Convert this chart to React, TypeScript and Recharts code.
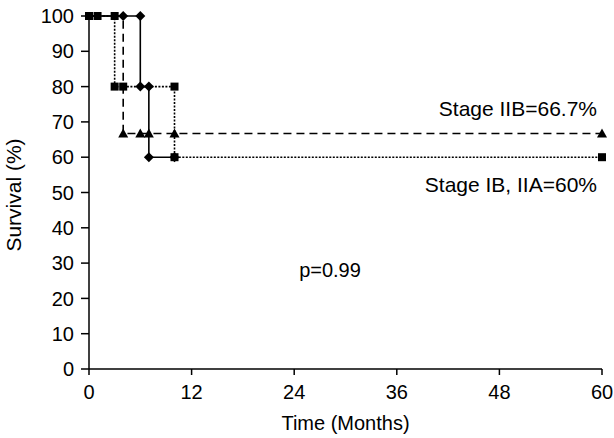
import React from "react";
import { LineChart, Line, XAxis, YAxis, Customized } from "recharts";

// Kaplan-Meier steps (months, survival %)
const ibTimes = [0, 4, 6, 6, 7, 7, 10];
const ibSurv = [100, 100, 100, 80, 80, 60, 60];

const iibTimes = [0, 4, 6, 7, 10, 60];
const iibSurv = [100, 66.7, 66.7, 66.7, 66.7, 66.7];

const iiaTimes = [0, 1, 3, 3, 4, 10, 10, 60];
const iiaSurv = [100, 100, 100, 80, 80, 80, 60, 60];

const xTicks = [0, 12, 24, 36, 48, 60];
const yTicks = [0, 10, 20, 30, 40, 50, 60, 70, 80, 90, 100];

const toRows = (ts: number[], ss: number[]) => ts.map((t, i) => ({ t, s: ss[i] }));

const FONT = "'Liberation Sans', Arial, sans-serif";

const makeDot = (shape: "diamond" | "triangle" | "square", skipFirst: boolean) => (p: any) => {
  const { cx, cy, index, key } = p;
  if (skipFirst && index === 0) return <g key={key ?? index} />;
  if (shape === "square")
    return <rect key={key ?? index} x={cx - 4} y={cy - 4} width={8} height={8} fill="#000" />;
  if (shape === "diamond")
    return (
      <polygon
        key={key ?? index}
        points={`${cx},${cy - 5} ${cx + 5},${cy} ${cx},${cy + 5} ${cx - 5},${cy}`}
        fill="#000"
      />
    );
  return (
    <polygon
      key={key ?? index}
      points={`${cx},${cy - 5} ${cx + 5},${cy + 4} ${cx - 5},${cy + 4}`}
      fill="#000"
    />
  );
};

const Notes = () => (
  <g fontFamily={FONT} fill="#000">
    <text x={597} y={116} fontSize={21} textAnchor="end">Stage IIB=66.7%</text>
    <text x={597} y={192} fontSize={21} textAnchor="end">Stage IB, IIA=60%</text>
    <text x={330} y={277} fontSize={20} textAnchor="middle">p=0.99</text>
    <text x={21} y={195} fontSize={21} textAnchor="middle" transform="rotate(-90 21 195)">Survival (%)</text>
  </g>
);

export default function App() {
  const tick = { fill: "#000", fontSize: 20, fontFamily: FONT };
  return (
    <div style={{ position: "absolute", left: 0, top: 0, background: "#fff" }}>
      <LineChart width={614} height={438} margin={{ top: 16, right: 12, bottom: 39, left: 0 }}>
        <XAxis
          type="number"
          dataKey="t"
          domain={[0, 60]}
          ticks={xTicks}
          tick={tick}
          height={30}
          tickSize={6}
          tickMargin={10}
          stroke="#000"
          strokeWidth={1.5}
          label={{ value: "Time (Months)", position: "bottom", offset: 17, fill: "#000", fontSize: 20, fontFamily: FONT }}
        />
        <YAxis
          type="number"
          domain={[0, 100]}
          ticks={yTicks}
          tick={tick}
          width={89}
          tickSize={8}
          tickMargin={7}
          stroke="#000"
          strokeWidth={1.5}
        />
        <Line
          data={toRows(ibTimes, ibSurv)}
          dataKey="s"
          type="stepAfter"
          stroke="#000"
          strokeWidth={1.6}
          dot={makeDot("diamond", true)}
          isAnimationActive={false}
        />
        <Line
          data={toRows(iibTimes, iibSurv)}
          dataKey="s"
          type="stepAfter"
          stroke="#000"
          strokeWidth={1.6}
          strokeDasharray="8 5"
          dot={makeDot("triangle", true)}
          isAnimationActive={false}
        />
        <Line
          data={toRows(iiaTimes, iiaSurv)}
          dataKey="s"
          type="stepAfter"
          stroke="#000"
          strokeWidth={1.6}
          strokeDasharray="2 1.5"
          dot={makeDot("square", false)}
          isAnimationActive={false}
        />
        <Customized component={Notes} />
      </LineChart>
    </div>
  );
}
